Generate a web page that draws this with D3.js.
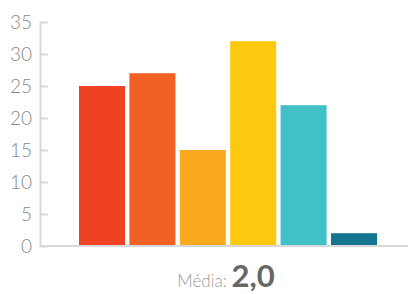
<!DOCTYPE html>
<html>
<head>
<meta charset="utf-8">
<script src="https://cdn.jsdelivr.net/npm/d3@7"></script>
<style>
  body { margin: 0; background: #fff; }
  svg { display: block; }
</style>
</head>
<body>
<div id="hook"></div>
<script>
// Data
var categories = ["1", "2", "3", "4", "5", "6"];
var values = [25, 27, 15, 32, 22, 2];
var colors = ["#EE4223", "#F16024", "#F9A91D", "#FCC90E", "#42C0C8", "#157591"];
var yTicks = [0, 5, 10, 15, 20, 25, 30, 35];
var mediaLabel = "Média:";
var mediaValue = "2,0";

var width = 409, height = 294;

var svg = d3.select("#hook").append("svg")
    .attr("width", width)
    .attr("height", height);

// scales
var x = d3.scaleBand()
    .domain(categories)
    .range([79, 377])
    .paddingInner(0.087)
    .paddingOuter(0);

var y = d3.scaleLinear()
    .domain([0, 35])
    .range([246, 22]);

// bars
svg.selectAll("rect.bar")
    .data(values)
    .enter()
        .append("rect")
            .attr("class", "bar")
            .attr("x", function(d, i) { return x(categories[i]) })
            .attr("y", function(d) { return y(d) })
            .attr("width", x.bandwidth())
            .attr("height", function(d) { return y(0) - y(d) })
            .attr("fill", function(d, i) { return colors[i] });

// y axis
var yAxis = svg.append("g")
    .attr("transform", "translate(40,0)")
    .call(d3.axisLeft(y).tickValues(yTicks).tickSize(-8).tickSizeOuter(0).tickPadding(8));
yAxis.select(".domain").attr("stroke", "#d8d8d8").attr("stroke-width", 2);
yAxis.selectAll(".tick line").attr("stroke", "#d8d8d8").attr("stroke-width", 2);
yAxis.selectAll(".tick text")
    .attr("fill", "#8a8a8a")
    .style("font-family", "Lato")
    .style("font-weight", 300)
    .style("font-size", "19px");

// baseline
svg.append("line")
    .attr("x1", 39).attr("x2", 408)
    .attr("y1", y(0)).attr("y2", y(0))
    .attr("stroke", "#d8d8d8")
    .attr("stroke-width", 2);

// media label
var t = svg.append("text")
    .attr("x", 226)
    .attr("y", 287)
    .attr("text-anchor", "middle")
    .style("font-family", "Lato");
t.append("tspan")
    .attr("fill", "#9a9a9a")
    .style("font-size", "17px")
    .style("font-weight", 300)
    .text(mediaLabel + " ");
t.append("tspan")
    .attr("fill", "#666")
    .style("font-size", "31px")
    .style("font-weight", 700)
    .text(mediaValue);
</script>
</body>
</html>
